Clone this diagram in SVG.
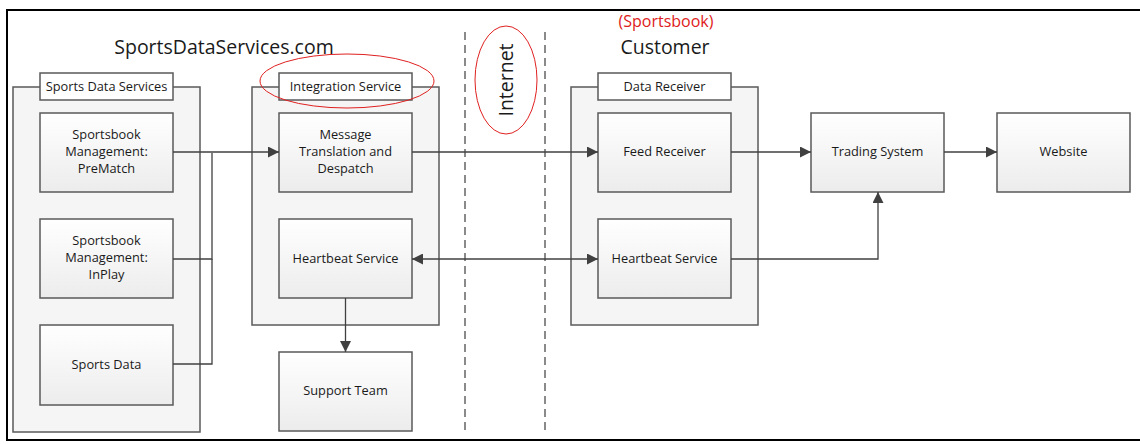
<svg xmlns="http://www.w3.org/2000/svg" width="1140" height="444" viewBox="0 0 1140 444">
<defs>
<linearGradient id="g" x1="0" y1="0" x2="0" y2="1">
<stop offset="0" stop-color="#ffffff"/>
<stop offset="1" stop-color="#ececec"/>
</linearGradient>
<marker id="arr" viewBox="0 0 10 10" refX="10" refY="5" markerWidth="11" markerHeight="11" markerUnits="userSpaceOnUse" orient="auto-start-reverse">
<path d="M0,0 L10,5 L0,10 z" fill="#404040"/>
</marker>
</defs>
<style>
.box{fill:url(#g);stroke:#5a5a5a;stroke-width:1.5}
.cont{fill:#f5f5f5;stroke:#5a5a5a;stroke-width:1.5}
.lbl{fill:#ffffff;stroke:#5a5a5a;stroke-width:1.5}
.t{font-family:"Open Sans","Liberation Sans",sans-serif;font-size:12.8px;fill:#1a1a1a;text-anchor:middle}
.big{font-family:"Open Sans","Liberation Sans",sans-serif;font-size:19.5px;fill:#1a1a1a;text-anchor:middle}
.red{font-family:"Open Sans","Liberation Sans",sans-serif;font-size:16px;fill:#e02020;text-anchor:middle}
.c{fill:none;stroke:#404040;stroke-width:1.3}
.dash{fill:none;stroke:#8a8a8a;stroke-width:2;stroke-dasharray:8,5}
</style>
<rect x="0" y="0" width="1140" height="444" fill="#ffffff"/>
<rect x="7" y="10" width="1140" height="430" fill="none" stroke="#000" stroke-width="2"/>

<text class="big" x="224" y="54">SportsDataServices.com</text>
<text class="red" x="666" y="27">(Sportsbook)</text>
<text class="big" x="665" y="54">Customer</text>

<g id="dashes">
<line class="dash" x1="465" y1="32" x2="465" y2="432"/>
<line class="dash" x1="545" y1="32" x2="545" y2="432"/>
</g>

<g id="internet">
<ellipse cx="506" cy="80" rx="31" ry="54" fill="none" stroke="#e02020" stroke-width="1"/>
<text class="big" x="0" y="0" transform="translate(513,80) rotate(-90)">Internet</text>
</g>

<g id="sports-data-services">
<rect class="cont" x="13" y="87" width="187" height="345"/>
<rect class="lbl" x="40" y="73" width="133" height="27"/>
<text class="t" x="106.5" y="91">Sports Data Services</text>
</g>
<g id="prematch">
<rect class="box" x="40" y="113" width="133" height="79"/>
<text class="t" x="106.5" y="139">Sportsbook</text>
<text class="t" x="106.5" y="156">Management:</text>
<text class="t" x="106.5" y="173">PreMatch</text>
</g>
<g id="inplay">
<rect class="box" x="40" y="219" width="133" height="79"/>
<text class="t" x="106.5" y="245">Sportsbook</text>
<text class="t" x="106.5" y="262">Management:</text>
<text class="t" x="106.5" y="279">InPlay</text>
</g>
<g id="sports-data">
<rect class="box" x="40" y="325" width="133" height="80"/>
<text class="t" x="106.5" y="369">Sports Data</text>
</g>

<g id="integration-service">
<rect class="cont" x="252" y="87" width="187" height="238"/>
<rect class="lbl" x="279" y="73" width="133" height="27"/>
<text class="t" x="345.5" y="91">Integration Service</text>
<ellipse cx="347" cy="81" rx="87" ry="27" fill="none" stroke="#e02020" stroke-width="1"/>
</g>
<g id="message-translation">
<rect class="box" x="279" y="113" width="133" height="79"/>
<text class="t" x="345.5" y="139">Message</text>
<text class="t" x="345.5" y="156">Translation and</text>
<text class="t" x="345.5" y="173">Despatch</text>
</g>
<g id="heartbeat-left">
<rect class="box" x="279" y="219" width="133" height="79"/>
<text class="t" x="345.5" y="263">Heartbeat Service</text>
</g>
<g id="support-team">
<rect class="box" x="279" y="352" width="133" height="79"/>
<text class="t" x="345.5" y="395">Support Team</text>
</g>

<g id="data-receiver">
<rect class="cont" x="571" y="87" width="187" height="238"/>
<rect class="lbl" x="598" y="73" width="133" height="27"/>
<text class="t" x="664.5" y="91">Data Receiver</text>
</g>
<g id="feed-receiver">
<rect class="box" x="598" y="113" width="133" height="79"/>
<text class="t" x="664.5" y="156">Feed Receiver</text>
</g>
<g id="heartbeat-right">
<rect class="box" x="598" y="219" width="133" height="79"/>
<text class="t" x="664.5" y="263">Heartbeat Service</text>
</g>

<g id="trading-system">
<rect class="box" x="811" y="113" width="133" height="79"/>
<text class="t" x="877.5" y="156">Trading System</text>
</g>
<g id="website">
<rect class="box" x="997" y="113" width="133" height="79"/>
<text class="t" x="1063.5" y="156">Website</text>
</g>

<g id="connectors">
<path class="c" d="M173,152 L279,152" marker-end="url(#arr)"/>
<path class="c" d="M173,259 L212,259 L212,153"/>
<path class="c" d="M173,364 L212,364 L212,259"/>
<path class="c" d="M412,152 L598,152" marker-end="url(#arr)"/>
<path class="c" d="M412,259 L598,259" marker-start="url(#arr)" marker-end="url(#arr)"/>
<path class="c" d="M345.5,298 L345.5,352" marker-end="url(#arr)"/>
<path class="c" d="M731,152 L811,152" marker-end="url(#arr)"/>
<path class="c" d="M944,152 L997,152" marker-end="url(#arr)"/>
<path class="c" d="M731,259 L878,259 L878,192" marker-end="url(#arr)"/>
</g>
</svg>
